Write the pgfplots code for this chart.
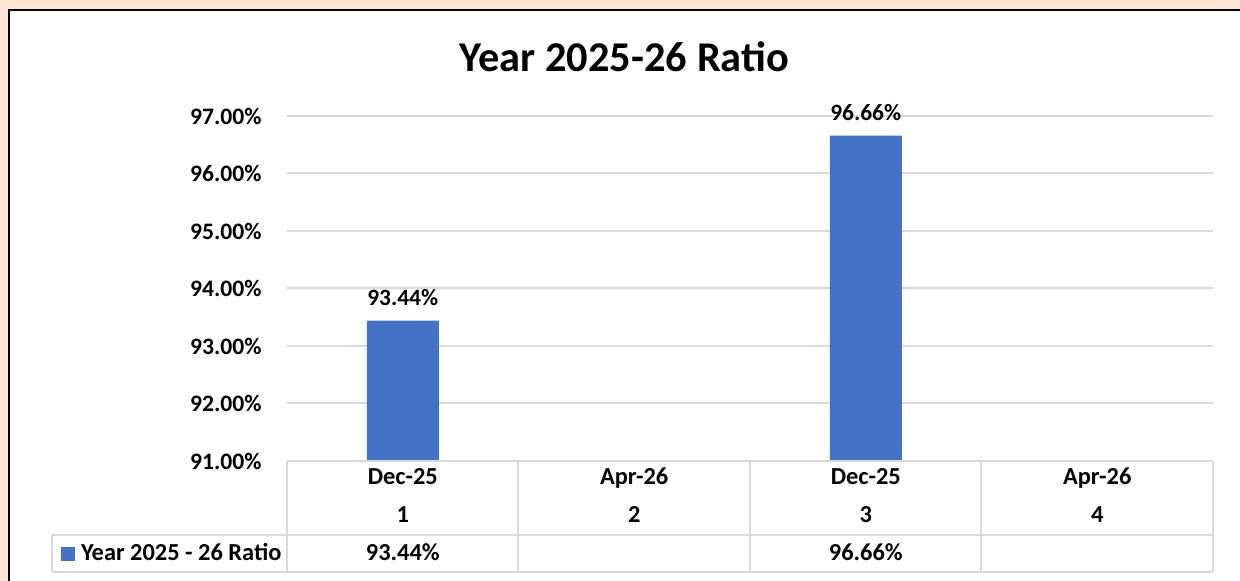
\documentclass[border=0pt]{standalone}
\usepackage{pgfplots}
\pgfplotsset{compat=1.18}
\usepackage{fontspec}
\setmainfont{Carlito}
\definecolor{peach}{HTML}{FCE4D6}
\definecolor{gridgrey}{HTML}{D9D9D9}
\definecolor{barblue}{HTML}{4472C4}
\begin{document}
\begin{tikzpicture}[font=\bfseries]
\useasboundingbox (0,0) rectangle (620pt,290.5pt);
\fill[peach] (0,0) rectangle (620pt,290.5pt);
\draw[black, line width=1pt, fill=white] (4.5pt,-5pt) rectangle (630pt,285.5pt);
\node[font=\fontsize{21.2}{25}\selectfont\bfseries, anchor=base, inner sep=0pt] at (312.25pt,254.5pt) {Year 2025-26 Ratio};
\begin{axis}[
  at={(143.5pt,60pt)}, anchor=south west,
  width=463pt, height=172.5pt, scale only axis,
  xmin=0.5, xmax=4.5, ymin=0, ymax=6,
  ybar, bar width=36pt,
  axis line style={draw=none},
  tick style={draw=none},
  xtick=\empty,
  ytick={0,1,2,3,4,5,6},
  /pgf/number format/assume math mode=true,
  yticklabel={\pgfmathparse{\tick+91}\pgfmathprintnumber[fixed,fixed zerofill,precision=2]{\pgfmathresult}\%},
  yticklabel style={font=\fontsize{11.8}{14}\selectfont\bfseries, anchor=east, inner sep=0pt, xshift=-12.5pt},
  ymajorgrids, grid style={gridgrey, line width=1pt},
  clip=false,
  point meta=explicit,
  nodes near coords={\pgfmathprintnumber[fixed,fixed zerofill,precision=2]{\pgfplotspointmeta}\%},
  nodes near coords style={font=\fontsize{11.7}{14}\selectfont\bfseries, anchor=base, yshift=7.5pt, inner sep=0pt},
]
\addplot[fill=barblue, draw=none] table[x=x, y expr=\thisrow{v}-91, meta=v] {
x v
1 93.44
3 96.66
};
\end{axis}
% data table
\begin{scope}[gridgrey, line width=1pt]
\draw (143.5pt,60pt) -- (606.5pt,60pt);
\draw (26pt,23pt) -- (606.5pt,23pt);
\draw (26pt,4.5pt) -- (606.5pt,4.5pt);
\foreach \xx in {143.5,259,375,490.5,606.5} \draw (\xx pt,60pt) -- (\xx pt,4.5pt);
\draw (26pt,23pt) -- (26pt,4.5pt);
\end{scope}
\begin{scope}[every node/.style={font=\fontsize{12.2}{14}\selectfont\bfseries, anchor=base, inner sep=0pt}]
\node at (201.4pt,48pt) {Dec-25};
\node at (317.1pt,48pt) {Apr-26};
\node at (432.9pt,48pt) {Dec-25};
\node at (548.6pt,48pt) {Apr-26};
\node at (201.4pt,29pt) {1};
\node at (317.1pt,29pt) {2};
\node at (432.9pt,29pt) {3};
\node at (548.6pt,29pt) {4};
\node at (201.4pt,10pt) {93.44\%};
\node at (432.9pt,10pt) {96.66\%};
\fill[barblue] (30.5pt,10pt) rectangle (37.5pt,17pt);
\node[anchor=base west] at (40.3pt,10pt) {Year 2025 - 26 Ratio};
\end{scope}
\end{tikzpicture}
\end{document}
